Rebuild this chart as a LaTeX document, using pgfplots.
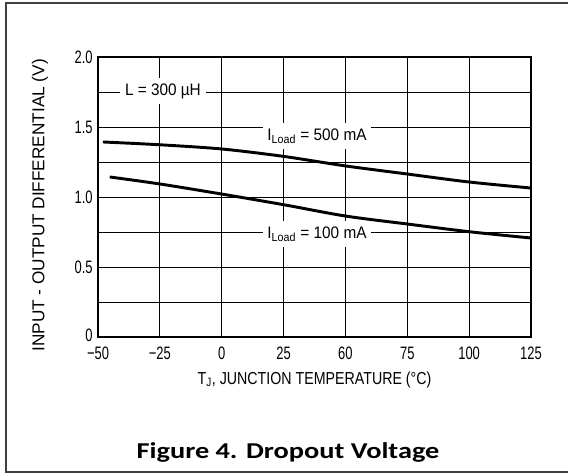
\documentclass[border=0pt]{standalone}
\usepackage{fontspec}
\setmainfont{Liberation Sans}[FakeStretch=0.88]
\newfontfamily\tickfont{Liberation Sans}[FakeStretch=0.72]
\newfontfamily\xlabfont{Liberation Sans}[FakeStretch=0.82]
\newfontfamily\ylabfont{Liberation Sans}
\newfontfamily\annfont{Liberation Sans}[FakeStretch=0.92]
\newfontfamily\capfont{Carlito}[FakeStretch=1.25]
\usepackage{pgfplots}
\pgfplotsset{compat=1.18}

\begin{document}
\begin{tikzpicture}
\path[use as bounding box] (0pt,0pt) rectangle (426pt,354.75pt);
% outer frame (right side is cut off in the reference)
\draw[line width=1.5pt, black!75] (426pt,352.5pt) -- (4.5pt,352.5pt) -- (4.5pt,0.75pt) -- (426pt,0.75pt);

\begin{axis}[
  at={(73.5pt,102pt)}, anchor=south west,
  scale only axis,
  width=324.75pt, height=210pt,
  xmin=0, xmax=7, ymin=0, ymax=2,
  xtick={0,...,7},
  xticklabels={−50,−25,0,25,60,75,100,125},
  ytick={0,0.5,1,1.5,2},
  yticklabels={\raisebox{2pt}{0},0.5,1.0,1.5,2.0},
  minor ytick={0.25,0.75,1.25,1.75},
  grid=both,
  major grid style={black, line width=0.7pt},
  minor grid style={black, line width=0.7pt},
  axis line style={line width=1pt},
  major tick length=0pt, minor tick length=0pt,
  tick label style={font=\tickfont\fontsize{13.5}{15}\selectfont},
  xticklabel style={yshift=-4pt},
  yticklabel style={xshift=-0.5pt},
  xlabel={T\textsubscript{J}, JUNCTION TEMPERATURE (°C)},
  ylabel={INPUT - OUTPUT DIFFERENTIAL (V)},
  xlabel style={font=\xlabfont\fontsize{13}{15}\selectfont,
    at={(axis description cs:0.5,0)}, anchor=center, yshift=-32pt},
  ylabel style={font=\ylabfont\fontsize{12.9}{15}\selectfont,
    at={(axis description cs:0,0.47)}, anchor=center, yshift=43.5pt},
]
% I_Load = 500 mA
\addplot[black, line width=2.2pt, smooth] coordinates {
  (0.08,1.393) (1,1.373) (2,1.343) (3,1.29) (4,1.222) (5,1.164) (6,1.107) (7,1.064)};
% I_Load = 100 mA
\addplot[black, line width=2.2pt, smooth] coordinates {
  (0.19,1.143) (1,1.093) (2,1.021) (3,0.945) (4,0.864) (5,0.807) (6,0.752) (7,0.707)};

\node[fill=white, inner sep=0pt, minimum width=65pt, minimum height=20pt,
  font=\annfont\fontsize{12.5}{14}\selectfont] at (axis cs:1.05,1.757) {L = 300 µH};
\node[fill=white, inner sep=0pt, minimum width=81pt, minimum height=19pt,
  font=\annfont\fontsize{12.5}{14}\selectfont] at (axis cs:3.54,1.436) {I\textsubscript{Load} = 500 mA};
\node[fill=white, inner sep=0pt, minimum width=81pt, minimum height=19pt,
  font=\annfont\fontsize{12.5}{14}\selectfont] at (axis cs:3.54,0.736) {I\textsubscript{Load} = 100 mA};
\end{axis}

\node[font=\capfont\bfseries\fontsize{17}{20}\selectfont] at (216pt,15.75pt) {Figure 4. Dropout Voltage};
\end{tikzpicture}
\end{document}
